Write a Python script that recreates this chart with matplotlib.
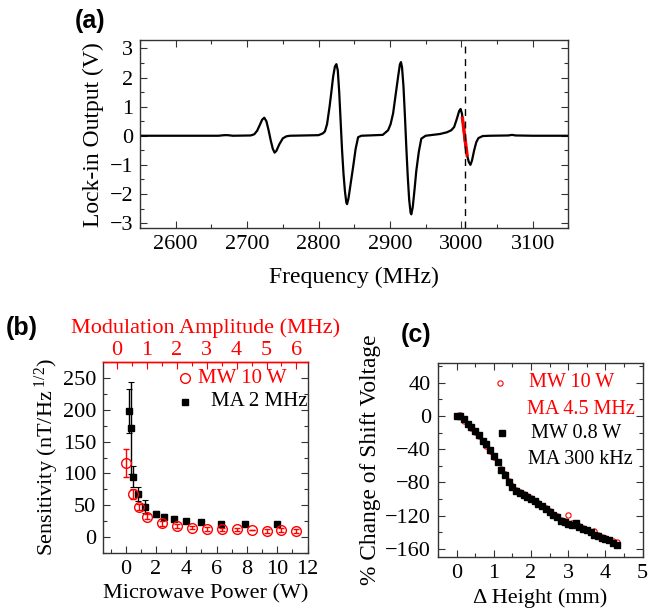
import matplotlib
matplotlib.use("Agg")
import matplotlib.pyplot as plt
from matplotlib.ticker import MultipleLocator

plt.rcParams['font.family'] = ['Liberation Serif', 'DejaVu Serif']
plt.rcParams['mathtext.fontset'] = 'custom'
plt.rcParams['mathtext.rm'] = 'Liberation Serif'
plt.rcParams['mathtext.it'] = 'Liberation Serif:italic'

# ---------------- Panel (a) data: lock-in (derivative) spectrum ----------------
freq_mhz = [2550, 2600, 2660, 2668, 2673, 2680, 2705, 2710, 2714, 2718, 2721,
            2724, 2727, 2730, 2733, 2736, 2738.5, 2741, 2745, 2750, 2755, 2760,
            2800, 2806, 2809, 2812, 2815.5, 2818, 2820.5, 2823, 2825, 2827,
            2829, 2831, 2833, 2835, 2837, 2839, 2840, 2842, 2845, 2848.5, 2852,
            2855.5, 2860, 2890, 2897.5, 2901, 2904.5, 2908, 2911.5, 2914,
            2915.5, 2917, 2919, 2921, 2923, 2925, 2927, 2929, 2930, 2932,
            2934.5, 2937, 2940.5, 2944, 2950, 2970, 2980, 2986, 2990, 2994,
            2997, 2999, 3001, 3003, 3005, 3008, 3010.5, 3012.8, 3015, 3018,
            3021, 3024, 3030, 3040, 3066, 3071, 3076, 3100, 3150]
lockin_v = [0, 0, 0, 0.02, 0.02, 0, 0.01, 0.05, 0.17, 0.38, 0.55,
            0.62, 0.5, 0.2, -0.15, -0.45, -0.58, -0.52, -0.3, -0.09, -0.02, 0,
            0.02, 0.08, 0.15, 0.4, 1.0, 1.5, 2.03, 2.38, 2.46, 2.25,
            1.5, 0.5, -0.5, -1.3, -1.9, -2.3, -2.35, -2.15, -1.65, -1.07, -0.45,
            -0.05, 0, 0.03, 0.19, 0.4, 0.77, 1.4, 2.03, 2.45,
            2.53, 2.35, 1.7, 0.7, -0.4, -1.4, -2.2, -2.65, -2.7, -2.45,
            -1.85, -1.2, -0.55, -0.1, 0, 0.06, 0.12, 0.19, 0.3, 0.6,
            0.85, 0.92, 0.75, 0.3, -0.2, -0.66, -0.9, -1.0, -0.85, -0.5,
            -0.22, -0.08, -0.01, 0, 0.01, 0.03, 0.01, 0, 0]
fit_freq = [3001.6, 3008.1]
fit_v = [0.6, -0.66]
marker_freq = 3005

# ---------------- Panel (b) data ----------------
ma_mhz = [0.3, 0.55, 0.75, 1.0, 1.5, 2.0, 2.5, 3.0, 3.5, 4.0, 4.5, 5.0, 5.5, 6.0]
sens_ma = [116, 68, 47, 32, 22, 18, 15, 13, 12, 12, 11, 10, 11, 9]
sens_ma_err = [22, 8, 5, 4, 4, 3, 3, 3, 3, 3, 0, 3, 3, 3]
mw_w = [0.2, 0.32, 0.5, 0.8, 1.26, 2.0, 2.5, 3.16, 4.0, 5.0, 6.3, 7.9, 10.0]
sens_mw = [198, 171, 95, 67, 48, 36, 32, 29, 25, 23, 21, 20, 20]
sens_mw_err = [34, 72, 16, 11, 10, 5, 4, 4, 3, 2, 2, 2, 2]

# ---------------- Panel (c) data ----------------
dheight_mm = [0.0, 0.1, 0.2, 0.3, 0.4, 0.5, 0.6, 0.7, 0.8, 0.9, 1.0, 1.1, 1.2,
              1.3, 1.4, 1.5, 1.6, 1.7, 1.8, 1.9, 2.0, 2.1, 2.2, 2.3, 2.4, 2.5,
              2.6, 2.7, 2.8, 2.9, 3.0, 3.1, 3.2, 3.3, 3.4, 3.5, 3.6, 3.7, 3.8,
              3.9, 4.0, 4.1, 4.2, 4.3]
shift_black = [0, 0.5, -4, -9, -13, -18, -23, -30, -34, -41, -48, -55, -65,
               -71, -79, -85, -90, -93, -95, -98, -100, -103, -106, -109, -112,
               -116, -119, -122, -126, -128, -130, -131, -129, -134, -136, -138,
               -140, -143, -145, -147, -148, -150, -153, -155]
shift_red = [0, 1, -6, -10, -14, -19, -24, -30, -36, -42, -49, -56, -64,
             -70, -78, -84, -89, -92, -94, -97, -99, -102, -105, -108, -111,
             -115, -119, -121, -125, -127, -119, -129, -131, -133, -135, -137,
             -140, -139, -144, -146, -147, -149, -151, -152]

RED = '#ff0000'
SPINE = '#333333'
TICK_FS = 16

fig = plt.figure(figsize=(6.48, 6.12), dpi=100)


def style_axes(ax, color=SPINE):
    for s in ax.spines.values():
        s.set_color(color)
        s.set_linewidth(1.0)
    ax.tick_params(which='both', direction='in', top=True, right=True,
                   colors=SPINE, labelcolor='black', labelsize=TICK_FS, pad=5)
    ax.tick_params(which='major', length=5, width=0.8)
    ax.tick_params(which='minor', length=3, width=0.8)


def fx(px):
    return px / 648


def fy(py):
    return 1 - py / 612


# ---- (a)
axa = fig.add_axes([fx(140), fy(228.3), fx(428.4), fy(40) - fy(228.3)])
axa.plot(freq_mhz, lockin_v, color='black', lw=1.6)
axa.plot(fit_freq, fit_v, color=RED, lw=2.4)
axa.axvline(marker_freq, color='black', lw=1.0, ls=(0, (5, 4)))
axa.set_xlim(2550, 3150)
axa.set_ylim(-3.18, 3.29)
axa.xaxis.set_major_locator(MultipleLocator(100))
axa.xaxis.set_minor_locator(MultipleLocator(50))
axa.yaxis.set_major_locator(MultipleLocator(1))
axa.yaxis.set_minor_locator(MultipleLocator(0.5))
style_axes(axa)
axa.set_xlabel('Frequency (MHz)', fontsize=17, labelpad=9)
axa.set_ylabel('Lock-in Output (V)', fontsize=17, labelpad=4)
fig.text(fx(90), fy(21), '(a)', family='Liberation Sans', weight='bold',
         fontsize=18, ha='center', va='center')

# ---- (b)
axb = fig.add_axes([fx(103), fy(553), fx(204.5), fy(362) - fy(553)])
axb.errorbar(mw_w, sens_mw, yerr=sens_mw_err, fmt='s', color='black', ms=3.8,
             elinewidth=1.0, capsize=2.5, capthick=0.8, zorder=3)
axb.set_xlim(-1.5, 12)
axb.set_ylim(-25, 275)
axb.xaxis.set_major_locator(MultipleLocator(2))
axb.xaxis.set_minor_locator(MultipleLocator(1))
axb.yaxis.set_major_locator(MultipleLocator(50))
axb.yaxis.set_minor_locator(MultipleLocator(25))
style_axes(axb)
axb.tick_params(which='both', top=False)
axb.spines['top'].set_color(RED)
axb.set_xlabel('Microwave Power (W)', fontsize=16, labelpad=4)
axb.set_ylabel('Sensitivity (nT/Hz$^{\\ 1/2}$)', fontsize=16, labelpad=1)

axb2 = axb.twiny()
axb2.errorbar(ma_mhz, sens_ma, yerr=sens_ma_err, fmt='o', mfc='none', mec=RED,
              ecolor=RED, ms=7, mew=1.0, elinewidth=1.0, capsize=2.5,
              capthick=0.8, zorder=4)
axb2.set_xlim(-0.47, 6.37)
axb2.xaxis.set_major_locator(MultipleLocator(1))
axb2.xaxis.set_minor_locator(MultipleLocator(0.5))
for s in axb2.spines.values():
    s.set_visible(False)
axb2.spines['top'].set_visible(True)
axb2.spines['top'].set_color(RED)
axb2.spines['top'].set_linewidth(1.0)
axb2.tick_params(which='both', direction='in', colors=RED, labelcolor=RED,
                 labelsize=TICK_FS, top=True, bottom=False, pad=1.5)
axb2.tick_params(which='major', length=5, width=0.8)
axb2.tick_params(which='minor', length=3, width=0.8)
axb2.set_xlabel('Modulation Amplitude (MHz)', fontsize=16, color=RED,
                labelpad=5.5)
axb2.set_ylim(axb.get_ylim())
# legend
axb2.plot([0.40], [0.915], 'o', mfc='none', mec=RED, ms=7, mew=1.0,
          transform=axb.transAxes, clip_on=False)
axb2.text(0.465, 0.915, 'MW 10 W', color=RED, fontsize=15,
          transform=axb.transAxes, va='center', ha='left')
axb2.plot([0.40], [0.792], 's', color='black', ms=3.8, transform=axb.transAxes,
          clip_on=False)
axb2.text(0.53, 0.792, 'MA 2 MHz', color='black', fontsize=15,
          transform=axb.transAxes, va='center', ha='left')
fig.text(fx(22), fy(328), '(b)', family='Liberation Sans', weight='bold',
         fontsize=18, ha='center', va='center')

# ---- (c)
axc = fig.add_axes([fx(438), fy(557), fx(204.7), fy(363) - fy(557)])
axc.plot(dheight_mm, shift_red, 'o', mfc='none', mec=RED, ms=3.8, mew=0.8,
         zorder=2)
axc.plot(dheight_mm, shift_black, 's', color='black', ms=3.8, zorder=3)
axc.set_xlim(-0.5, 5)
axc.set_ylim(-170, 64)
axc.xaxis.set_major_locator(MultipleLocator(1))
axc.xaxis.set_minor_locator(MultipleLocator(0.5))
axc.yaxis.set_major_locator(MultipleLocator(40))
axc.yaxis.set_minor_locator(MultipleLocator(20))
style_axes(axc)
axc.set_xlabel('\u0394 Height (mm)', fontsize=16, labelpad=4)
axc.set_ylabel('% Change of Shift Voltage', fontsize=16.8, labelpad=3)
axc.plot([0.303], [0.897], 'o', mfc='none', mec=RED, ms=3.8, mew=0.8,
         transform=axc.transAxes, clip_on=False)
axc.text(0.445, 0.897, 'MW 10 W', color=RED, fontsize=14.5,
         transform=axc.transAxes, va='center', ha='left')
axc.text(0.435, 0.758, 'MA 4.5 MHz', color=RED, fontsize=14.5,
         transform=axc.transAxes, va='center', ha='left')
axc.plot([0.313], [0.639], 's', color='black', ms=3.8,
         transform=axc.transAxes, clip_on=False)
axc.text(0.454, 0.639, 'MW 0.8 W', color='black', fontsize=14.5,
         transform=axc.transAxes, va='center', ha='left')
axc.text(0.44, 0.505, 'MA 300 kHz', color='black', fontsize=14.5,
         transform=axc.transAxes, va='center', ha='left')
fig.text(fx(416), fy(335), '(c)', family='Liberation Sans', weight='bold',
         fontsize=18, ha='center', va='center')

fig.savefig('out.png', dpi=100)
